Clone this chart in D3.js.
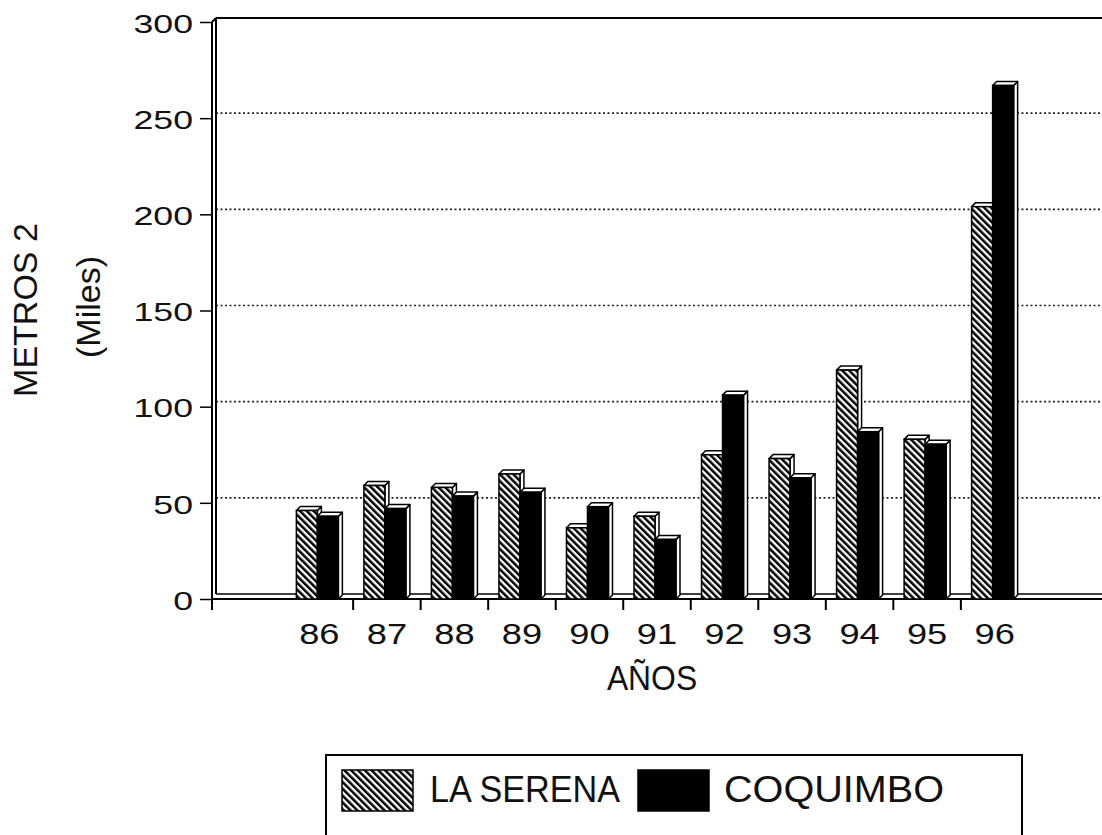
<!DOCTYPE html>
<html>
<head>
<meta charset="utf-8">
<script src="https://cdn.jsdelivr.net/npm/d3@7"></script>
<style>
  body { margin: 0; background: #fff; }
  svg { display: block; }
  text { font-family: "Liberation Sans", Arial, sans-serif; fill: #111; }
</style>
</head>
<body>
<div id="chart"></div>
<script>
// data (thousands of m2)
var years = ['86', '87', '88', '89', '90', '91', '92', '93', '94', '95', '96'];
var laSerena = [46, 59, 58, 65, 37, 43, 75, 73, 119, 83, 204];
var coquimbo = [43, 47, 53.5, 55.5, 48, 31, 106, 63, 87, 80.5, 267];
var seriesNames = ['LA SERENA', 'COQUIMBO'];
var yTicks = [0, 50, 100, 150, 200, 250, 300];

var width = 1102;
var height = 835;

// plot frame (front plane) and the 3d depth of the back wall
var plotLeft = 212, plotRight = 1102, plotTop = 22, plotBottom = 599;
var wallDx = 4, wallDy = 5;
var barDx = 4, barDy = 4;

var svg = d3.select('#chart')
  .append('svg')
  .attr('width', width)
  .attr('height', height);

var defs = svg.append('defs');
var hatch = defs.append('pattern')
  .attr('id', 'hatch')
  .attr('patternUnits', 'userSpaceOnUse')
  .attr('width', 4.8)
  .attr('height', 8)
  .attr('patternTransform', 'rotate(-45)');
hatch.append('rect').attr('width', 4.8).attr('height', 8).attr('fill', '#fff');
hatch.append('rect').attr('width', 2.5).attr('height', 8).attr('fill', '#000');

var y = d3.scaleLinear().domain([0, 300]).range([plotBottom, plotTop]);

var x = d3.scaleBand()
  .domain(years)
  .range([plotLeft, plotRight])
  .paddingInner(0)
  .paddingOuter(1.09);

var x1 = d3.scaleBand()
  .domain(seriesNames)
  .range([0, 42]);

var groupOffset = (x.step() - 42 - barDx) / 2;

// back wall: gridlines
svg.append('g')
  .selectAll('line')
  .data(yTicks.filter(function(d) { return d > 0 && d < 300; }))
  .enter().append('line')
  .attr('x1', plotLeft + wallDx)
  .attr('x2', plotRight)
  .attr('y1', function(d) { return y(d) - wallDy; })
  .attr('y2', function(d) { return y(d) - wallDy; })
  .attr('stroke', '#222')
  .attr('stroke-width', 1.6)
  .attr('stroke-dasharray', '2,2.5');

// frame lines
var frame = svg.append('g')
  .attr('fill', 'none')
  .attr('stroke', '#000')
  .attr('stroke-width', 2);
frame.append('line')  // back wall left edge
  .attr('x1', plotLeft + wallDx).attr('x2', plotLeft + wallDx)
  .attr('y1', plotTop - wallDy + 1).attr('y2', plotBottom - wallDy);
frame.append('line')  // top edge
  .attr('x1', plotLeft + wallDx).attr('x2', plotRight)
  .attr('y1', plotTop - wallDy + 1).attr('y2', plotTop - wallDy + 1);
frame.append('line')
  .attr('x1', plotLeft).attr('x2', plotLeft + wallDx)
  .attr('y1', plotTop).attr('y2', plotTop - wallDy + 1);
frame.append('line')  // floor back
  .attr('x1', plotLeft + wallDx).attr('x2', plotRight)
  .attr('y1', plotBottom - wallDy).attr('y2', plotBottom - wallDy)
  .attr('stroke-width', 1.6);
frame.append('line')  // floor front
  .attr('x1', plotLeft).attr('x2', plotRight)
  .attr('y1', plotBottom).attr('y2', plotBottom);
frame.append('line')  // front axis
  .attr('x1', plotLeft).attr('x2', plotLeft)
  .attr('y1', plotTop).attr('y2', plotBottom + 11);

// category ticks between the years
svg.append('g')
  .selectAll('line')
  .data(years.slice(1))
  .enter().append('line')
  .attr('x1', function(d) { return x(d); })
  .attr('x2', function(d) { return x(d); })
  .attr('y1', plotBottom)
  .attr('y2', plotBottom + 11)
  .attr('stroke', '#000')
  .attr('stroke-width', 2);

// bars
var rows = years.map(function(yr, i) {
  return [
    { year: yr, key: seriesNames[0], value: laSerena[i] },
    { year: yr, key: seriesNames[1], value: coquimbo[i] }
  ];
});

function fillFor(key) {
  return key === seriesNames[0] ? 'url(#hatch)' : '#000';
}

var groups = svg.append('g')
  .selectAll('g')
  .data(rows)
  .enter().append('g')
  .attr('transform', function(d) { return 'translate(' + (x(d[0].year) + groupOffset) + ',0)'; });

var bars = groups.selectAll('g')
  .data(function(d) { return d; })
  .enter().append('g');

bars.append('path')  // side face
  .attr('d', function(d) {
    var x0 = x1(d.key) + x1.bandwidth(), yv = y(d.value), y0 = y(0);
    return 'M' + x0 + ',' + yv + 'L' + (x0 + barDx) + ',' + (yv - barDy) +
      'L' + (x0 + barDx) + ',' + (y0 - barDy) + 'L' + x0 + ',' + y0 + 'Z';
  })
  .attr('fill', '#fff')
  .attr('stroke', '#000')
  .attr('stroke-width', 1.5)
  .attr('stroke-linejoin', 'round');

bars.append('path')  // top face
  .attr('d', function(d) {
    var x0 = x1(d.key), w = x1.bandwidth(), yv = y(d.value);
    return 'M' + x0 + ',' + yv + 'L' + (x0 + barDx) + ',' + (yv - barDy) +
      'L' + (x0 + w + barDx) + ',' + (yv - barDy) + 'L' + (x0 + w) + ',' + yv + 'Z';
  })
  .attr('fill', '#fff')
  .attr('stroke', '#000')
  .attr('stroke-width', 1.5)
  .attr('stroke-linejoin', 'round');

bars.append('rect')  // front face
  .attr('x', function(d) { return x1(d.key); })
  .attr('y', function(d) { return y(d.value); })
  .attr('width', x1.bandwidth())
  .attr('height', function(d) { return y(0) - y(d.value); })
  .attr('fill', function(d) { return fillFor(d.key); })
  .attr('stroke', '#000')
  .attr('stroke-width', 1.5);

// y axis
var yAxis = svg.append('g')
  .attr('transform', 'translate(' + plotLeft + ',0)')
  .call(d3.axisLeft(y).tickValues(yTicks).tickSize(12).tickPadding(7));
yAxis.select('.domain').remove();
yAxis.selectAll('line').attr('stroke', '#000').attr('stroke-width', 1.5);
yAxis.selectAll('text')
  .attr('font-size', 25.5)
  .attr('font-family', '"Liberation Sans", Arial, sans-serif')
  .attr('fill', '#111')
  .attr('x', -19 / 1.4)
  .attr('dy', '0.4em')
  .attr('transform', 'scale(1.4,1)');

// x labels
var xAxis = svg.append('g')
  .attr('transform', 'translate(' + (groupOffset + 23 - x.bandwidth() / 2) + ',' + plotBottom + ')')
  .call(d3.axisBottom(x).tickSize(0));
xAxis.select('.domain').remove();
xAxis.selectAll('text')
  .attr('font-size', 29)
  .attr('font-family', '"Liberation Sans", Arial, sans-serif')
  .attr('fill', '#111')
  .attr('y', null)
  .attr('dy', null)
  .attr('transform', 'translate(0,44.5) scale(1.25,1)');

// axis titles
svg.append('text')
  .attr('transform', 'translate(652,690) scale(0.91,1)')
  .attr('text-anchor', 'middle')
  .attr('font-size', 35)
  .text('AÑOS');

svg.append('text')
  .attr('transform', 'translate(37,310) rotate(-90)')
  .attr('text-anchor', 'middle')
  .attr('font-size', 34)
  .text('METROS 2');

svg.append('text')
  .attr('transform', 'translate(100,307) rotate(-90)')
  .attr('text-anchor', 'middle')
  .attr('font-size', 34)
  .text('(Miles)');

// legend
var legend = svg.append('g');
legend.append('rect')
  .attr('x', 326).attr('y', 755)
  .attr('width', 696).attr('height', 120)
  .attr('fill', 'none')
  .attr('stroke', '#000')
  .attr('stroke-width', 2);

var legendX = [342, 638];
var legendTextX = [430, 724];
var legendTextW = [190, 220];
seriesNames.forEach(function(name, i) {
  legend.append('rect')
    .attr('x', legendX[i]).attr('y', 770)
    .attr('width', 71).attr('height', 41)
    .attr('fill', fillFor(name))
    .attr('stroke', '#000')
    .attr('stroke-width', 1.5);
  legend.append('text')
    .attr('x', legendTextX[i])
    .attr('y', 802)
    .attr('font-size', 37)
    .attr('textLength', legendTextW[i])
    .attr('lengthAdjust', 'spacingAndGlyphs')
    .text(name);
});
</script>
</body>
</html>
